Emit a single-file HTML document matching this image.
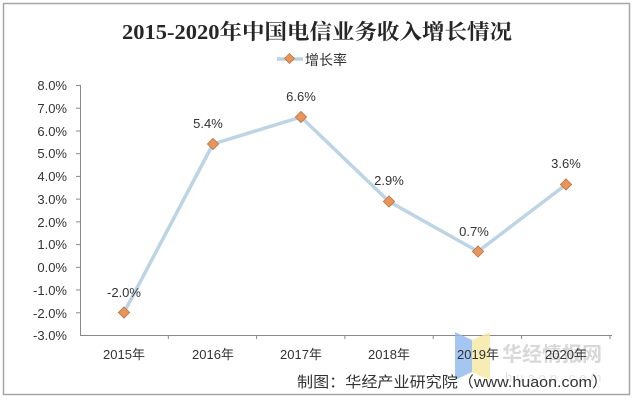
<!DOCTYPE html>
<html><head><meta charset="utf-8"><style>
body{margin:0;background:#fff;}
svg{display:block;font-family:"Liberation Sans","Noto Sans CJK SC",sans-serif;}
</style></head><body>
<svg width="636" height="400" xmlns="http://www.w3.org/2000/svg">
<rect x="3.5" y="3.5" width="626" height="391" fill="#fff" stroke="#a6a6a6" stroke-width="1.5"/>
<text x="122" y="39" textLength="390" lengthAdjust="spacingAndGlyphs" font-family="Liberation Serif,'Noto Serif CJK SC',serif" font-size="21" font-weight="bold" fill="#262626">2015-2020年中国电信业务收入增长情况</text>
<line x1="277" y1="59" x2="303" y2="59" stroke="#b9d2e2" stroke-width="3.5"/>
<rect x="286" y="55" width="7" height="7" fill="#e8955a" stroke="#b86a3a" stroke-width="0.7" transform="rotate(45 289.5 58.5)"/>
<text x="305" y="65" font-size="14" fill="#333">增长率</text>
<g stroke="#888" stroke-width="1">
<line x1="80.5" y1="85" x2="80.5" y2="335"/>
<line x1="80" y1="335.5" x2="612" y2="335.5"/>
</g>
<g stroke="#888" stroke-width="1">
<line x1="76" y1="85.5" x2="80" y2="85.5"/><line x1="76" y1="108.2" x2="80" y2="108.2"/><line x1="76" y1="131" x2="80" y2="131"/><line x1="76" y1="153.7" x2="80" y2="153.7"/><line x1="76" y1="176.4" x2="80" y2="176.4"/><line x1="76" y1="199.1" x2="80" y2="199.1"/><line x1="76" y1="221.9" x2="80" y2="221.9"/><line x1="76" y1="244.6" x2="80" y2="244.6"/><line x1="76" y1="267.3" x2="80" y2="267.3"/><line x1="76" y1="290" x2="80" y2="290"/><line x1="76" y1="312.8" x2="80" y2="312.8"/>
<line x1="168.3" y1="335" x2="168.3" y2="339"/><line x1="256.6" y1="335" x2="256.6" y2="339"/><line x1="344.9" y1="335" x2="344.9" y2="339"/><line x1="433.2" y1="335" x2="433.2" y2="339"/><line x1="521.5" y1="335" x2="521.5" y2="339"/><line x1="610" y1="335" x2="610" y2="339"/>
</g>
<g font-size="13" fill="#333" text-anchor="end">
<text x="67" y="90">8.0%</text><text x="67" y="113">7.0%</text><text x="67" y="136">6.0%</text><text x="67" y="158">5.0%</text><text x="67" y="181">4.0%</text><text x="67" y="204">3.0%</text><text x="67" y="227">2.0%</text><text x="67" y="249">1.0%</text><text x="67" y="272">0.0%</text><text x="67" y="295">-1.0%</text><text x="67" y="318">-2.0%</text><text x="67" y="340">-3.0%</text>
</g>
<polygon points="455,332 472,340 472,372 455,380" fill="#8fb8ec" opacity="0.8"/>
<polygon points="472,340 490,332 490,380 472,372" fill="#f5e7a0" opacity="0.8"/>
<text x="502" y="361" font-size="20" font-weight="bold" fill="#d8d8d8">华经情报网</text>
<text x="505" y="382" font-size="13" fill="#e2e2e2" letter-spacing="4">huaon.com</text>
<g font-size="13" fill="#333" text-anchor="middle">
<text x="124" y="359">2015年</text><text x="213" y="359">2016年</text><text x="301" y="359">2017年</text><text x="389" y="359">2018年</text><text x="478" y="359">2019年</text><text x="566" y="359">2020年</text>
</g>
<polyline points="124,312.5 213,144 301,117 389,201.5 478,251.5 566,184.5" fill="none" stroke="#bcd4e4" stroke-width="3.5" stroke-linejoin="round"/>
<g fill="#e8955a" stroke="#b86a3a" stroke-width="0.7">
<rect x="120" y="308.5" width="8" height="8" transform="rotate(45 124 312.5)"/>
<rect x="209" y="140" width="8" height="8" transform="rotate(45 213 144)"/>
<rect x="297" y="113" width="8" height="8" transform="rotate(45 301 117)"/>
<rect x="385" y="197.5" width="8" height="8" transform="rotate(45 389 201.5)"/>
<rect x="474" y="247.5" width="8" height="8" transform="rotate(45 478 251.5)"/>
<rect x="562" y="180.5" width="8" height="8" transform="rotate(45 566 184.5)"/>
</g>
<g font-size="13" fill="#333" text-anchor="middle">
<text x="124" y="297">-2.0%</text><text x="208" y="128">5.4%</text><text x="301" y="101">6.6%</text><text x="389" y="185">2.9%</text><text x="474" y="236">0.7%</text><text x="566" y="168">3.6%</text>
</g>
<text x="297" y="387" textLength="311" lengthAdjust="spacingAndGlyphs" font-size="15" fill="#333">制图：华经产业研究院（www.huaon.com）</text>
</svg>
</body></html>
